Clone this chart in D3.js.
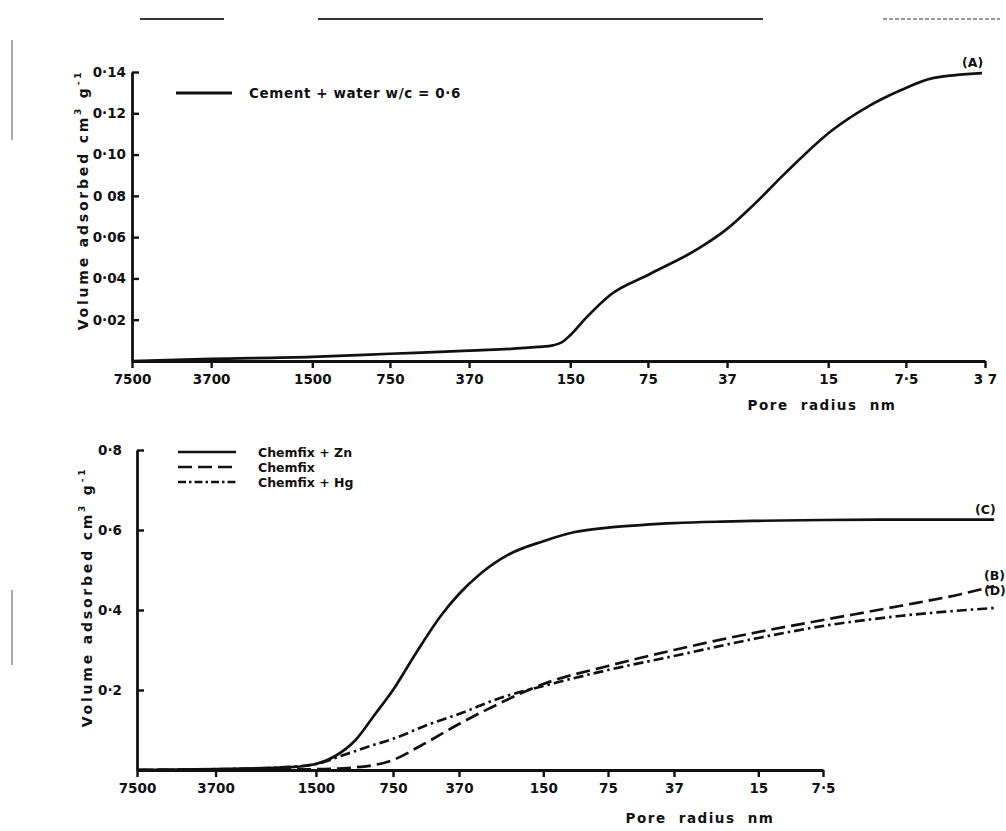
<!DOCTYPE html>
<html>
<head>
<meta charset="utf-8">
<script src="https://cdn.jsdelivr.net/npm/d3@7"></script>
<style>
  body { margin: 0; background: #fff; }
  svg text { font-family: "DejaVu Sans", sans-serif; font-weight: bold; fill: #111; }
</style>
</head>
<body>
<div class="chart"></div>
<script>
// ---- data (pore radius in nm, volume adsorbed in cm3/g) ----
var topTicks = [7500, 3700, 1500, 750, 370, 150, 75, 37, 15, 7.5, 3.7];
var topTickLabels = ['7500', '3700', '1500', '750', '370', '150', '75', '37', '15', '7·5', '3 7'];
var topYTicks = [0.02, 0.04, 0.06, 0.08, 0.10, 0.12, 0.14];
var topYLabels = ['0·02', '0·04', '0·06', '0 08', '0·10', '0·12', '0·14'];

var botTicks = [7500, 3700, 1500, 750, 370, 150, 75, 37, 15, 7.5];
var botTickLabels = ['7500', '3700', '1500', '750', '370', '150', '75', '37', '15', '7·5'];
var botYTicks = [0.2, 0.4, 0.6, 0.8];
var botYLabels = ['0·2', '0·4', '0·6', '0·8'];

// (A) cement + water w/c = 0.6
var radiusA = [7500, 3700, 1500, 750, 370, 200, 175, 162, 150, 130, 105, 74, 47, 37, 29, 22, 14.4, 10.6, 7.9, 5.9, 3.8];
var volA    = [0, 0.001, 0.002, 0.0035, 0.005, 0.0068, 0.0076, 0.009, 0.0125, 0.021, 0.032, 0.042, 0.055, 0.064, 0.076, 0.091, 0.112, 0.123, 0.131, 0.137, 0.1395];

// (C) Chemfix + Zn
var radiusC = [7500, 3700, 1900, 1500, 1260, 1050, 880, 750, 590, 450, 370, 295, 215, 150, 107, 75, 53, 37, 22, 15, 7.5, 3.3, 1.2];
var volC    = [0, 0.002, 0.007, 0.015, 0.035, 0.075, 0.14, 0.2, 0.29, 0.385, 0.44, 0.49, 0.54, 0.572, 0.595, 0.606, 0.612, 0.617, 0.621, 0.623, 0.625, 0.626, 0.626];

// (B) Chemfix
var radiusB = [7500, 3700, 1500, 1000, 750, 560, 370, 265, 150, 75, 37, 15, 7.5, 3.3, 1.7, 1.2];
var volB    = [0, 0.001, 0.002, 0.008, 0.025, 0.06, 0.115, 0.155, 0.215, 0.26, 0.3, 0.345, 0.375, 0.41, 0.44, 0.46];

// (D) Chemfix + Hg
var radiusD = [7500, 3700, 2300, 1500, 1200, 920, 750, 505, 370, 238, 150, 75, 37, 15, 7.5, 3.3, 1.2];
var volD    = [0, 0.002, 0.005, 0.015, 0.035, 0.06, 0.078, 0.115, 0.14, 0.18, 0.21, 0.25, 0.285, 0.33, 0.36, 0.385, 0.405];

var svg = d3.select('.chart')
            .append('svg')
            .attr('width', 1006)
            .attr('height', 831);

// scanned header rules and margin marks
var rules = [[140, 224], [318, 763], [883, 1000]];
svg.selectAll('line.rule')
   .data(rules)
   .enter().append('line')
   .attr('class', 'rule')
   .attr('x1', function(d) { return d[0]; })
   .attr('x2', function(d) { return d[1]; })
   .attr('y1', 19).attr('y2', 19)
   .attr('stroke', '#333')
   .attr('stroke-width', function(d, i) { return i === 2 ? 1.2 : 2; })
   .attr('stroke-dasharray', function(d, i) { return i === 2 ? '4,2' : null; });
var margins = [[40, 140], [590, 665]];
svg.selectAll('line.margin')
   .data(margins)
   .enter().append('line')
   .attr('class', 'margin')
   .attr('x1', 12).attr('x2', 12)
   .attr('y1', function(d) { return d[0]; })
   .attr('y2', function(d) { return d[1]; })
   .attr('stroke', '#555')
   .attr('stroke-width', 1);

// ---- top panel ----
var xTop = d3.scaleLog().domain([7500, 3.7]).range([132, 985]);
var yTop = d3.scaleLinear().domain([0, 0.14]).range([361, 72]);

// ---- bottom panel (scan stretched left of 750) ----
var xBot = d3.scaleLog().domain([7500, 750, 7.5]).range([137, 393, 823]);
var yBot = d3.scaleLinear().domain([0, 0.8]).range([770, 450]);

function styleAxis(g) {
  g.select('.domain').attr('stroke', '#111').attr('stroke-width', 2.8);
  g.selectAll('.tick line').attr('stroke', '#111').attr('stroke-width', 2.4);
  g.selectAll('.tick text').attr('font-size', 13.5).attr('font-family', '"DejaVu Sans", sans-serif').attr('font-weight', 'bold').attr('fill', '#111');
}

function labelFor(vals, labels) {
  return function(d) { return labels[vals.indexOf(d)]; };
}

svg.append('g')
   .attr('transform', 'translate(0,' + yTop(0) + ')')
   .call(d3.axisBottom(xTop).tickValues(topTicks).tickFormat(labelFor(topTicks, topTickLabels)).tickSizeInner(7).tickSizeOuter(0).tickPadding(6))
   .call(styleAxis);

svg.append('g')
   .attr('transform', 'translate(' + xTop(7500) + ',0)')
   .call(d3.axisLeft(yTop).tickValues(topYTicks).tickFormat(labelFor(topYTicks, topYLabels)).tickSizeInner(-7).tickSizeOuter(0).tickPadding(6))
   .call(styleAxis);

svg.append('g')
   .attr('transform', 'translate(0,' + yBot(0) + ')')
   .call(d3.axisBottom(xBot).tickValues(botTicks).tickFormat(labelFor(botTicks, botTickLabels)).tickSizeInner(7).tickSizeOuter(0).tickPadding(6))
   .call(styleAxis);

svg.append('g')
   .attr('transform', 'translate(' + xBot(7500) + ',0)')
   .call(d3.axisLeft(yBot).tickValues(botYTicks).tickFormat(labelFor(botYTicks, botYLabels)).tickSizeInner(-7).tickSizeOuter(0).tickPadding(15))
   .call(styleAxis);

// y axis titles
function yTitle(x, y) {
  var t = svg.append('text')
             .attr('transform', 'translate(' + x + ',' + y + ') rotate(-90)')
             .attr('text-anchor', 'middle')
             .attr('font-size', 14)
             .attr('letter-spacing', 2.8);
  t.append('tspan').text('Volume  adsorbed  cm');
  t.append('tspan').attr('dy', -7).attr('font-size', 9).text('3');
  t.append('tspan').attr('dy', 7).text(' g');
  t.append('tspan').attr('dy', -7).attr('font-size', 9).text('-1');
}
yTitle(88, 200);
yTitle(92, 597);

function xTitle(x, y) {
  svg.append('text').attr('x', x).attr('y', y).attr('text-anchor', 'middle')
     .attr('font-size', 13.5).attr('letter-spacing', 1.5).attr('word-spacing', 6)
     .text('Pore radius nm');
}
xTitle(822, 410);
xTitle(700, 823);

// curves
function curve(x, y, rs, vs, dash) {
  var line = d3.line()
               .x(function(d) { return x(d[0]); })
               .y(function(d) { return y(d[1]); })
               .curve(d3.curveMonotoneX);
  svg.append('path')
     .datum(d3.zip(rs, vs))
     .attr('d', line)
     .attr('fill', 'none')
     .attr('stroke', '#111')
     .attr('stroke-width', 2.7)
     .attr('stroke-dasharray', dash);
}
curve(xTop, yTop, radiusA, volA, null);
curve(xBot, yBot, radiusC, volC, null);
curve(xBot, yBot, radiusB, volB, '14,6');
curve(xBot, yBot, radiusD, volD, '10,4,2.5,4');

// legends
svg.append('line').attr('x1', 176).attr('x2', 232).attr('y1', 93).attr('y2', 93).attr('stroke', '#111').attr('stroke-width', 2.8);
svg.append('text').attr('x', 249).attr('y', 98).attr('font-size', 13.5).attr('letter-spacing', 0.6).text('Cement + water  w/c = 0·6');

var legNames = ['Chemfix + Zn', 'Chemfix', 'Chemfix + Hg'];
var legDash = [null, '14,6', '8,3,2.5,3'];
legNames.forEach(function(n, i) {
  var yy = 452 + i * 15;
  svg.append('line').attr('x1', 178).attr('x2', 236).attr('y1', yy).attr('y2', yy)
     .attr('stroke', '#111').attr('stroke-width', 2.4).attr('stroke-dasharray', legDash[i]);
  svg.append('text').attr('x', 258).attr('y', yy + 5).attr('font-size', 12.5).text(n);
});

// curve tags
svg.append('text').attr('x', 962).attr('y', 67).attr('font-size', 12.5).text('(A)');
svg.append('text').attr('x', 975).attr('y', 514).attr('font-size', 12.5).text('(C)');
svg.append('text').attr('x', 984).attr('y', 580).attr('font-size', 12.5).text('(B)');
svg.append('text').attr('x', 984).attr('y', 595).attr('font-size', 12.5).text('(D)');
</script>
</body>
</html>
